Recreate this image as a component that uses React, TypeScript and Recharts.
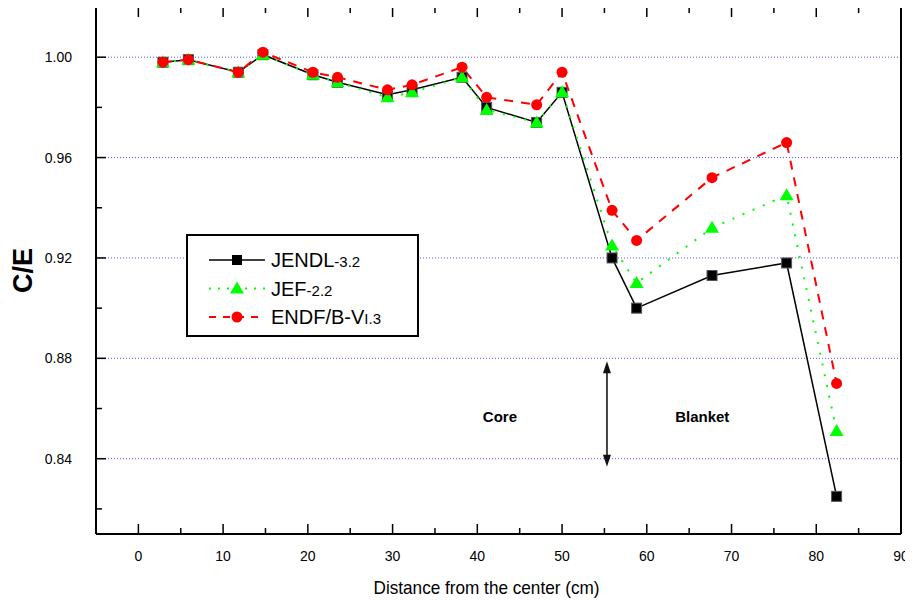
import React from 'react'
import { LineChart, Line, XAxis, YAxis, ReferenceLine, ReferenceDot, Label } from 'recharts'

// distance from the core center (cm)
const distance = [2.9, 5.9, 11.8, 14.7, 20.6, 23.5, 29.4, 32.3, 38.2, 41.1, 47.0, 50.0, 55.9, 58.8, 67.7, 76.5, 82.4]
const jendl = [0.998, 0.999, 0.994, 1.001, 0.993, 0.990, 0.985, 0.987, 0.992, 0.980, 0.974, 0.986, 0.920, 0.900, 0.913, 0.918, 0.825]
const jef = [0.998, 0.999, 0.994, 1.001, 0.993, 0.990, 0.984, 0.986, 0.992, 0.979, 0.974, 0.986, 0.925, 0.910, 0.932, 0.945, 0.851]
const endf = [0.998, 0.999, 0.994, 1.002, 0.994, 0.992, 0.987, 0.989, 0.996, 0.984, 0.981, 0.994, 0.939, 0.927, 0.952, 0.966, 0.870]

const xTicks = [0, 5, 10, 15, 20, 25, 30, 35, 40, 45, 50, 55, 60, 65, 70, 75, 80, 85, 90]
const yTicks = [0.82, 0.84, 0.86, 0.88, 0.90, 0.92, 0.94, 0.96, 0.98, 1.00, 1.02]
const yMajor = [0.84, 0.88, 0.92, 0.96, 1.00]

// annotation positions in data units
const boundaryX = 55.3
const arrowTop = 0.8788
const arrowBottom = 0.8368
const labelY = 0.8548
const coreX = 40.65
const blanketX = 63.35

const rows = distance.map((x, i) => ({ x, jendl: jendl[i], jef: jef[i], endf: endf[i] }))

const FONT = '"Liberation Sans", Arial, Helvetica, sans-serif'

const isMajorX = (v: number) => v % 10 === 0

const BottomTick = (props: any) => {
  const { x, y, payload } = props
  const major = isMajorX(payload.value)
  return (
    <g>
      <line x1={x} x2={x} y1={y} y2={y - (major ? 10 : 6)} stroke="#000" strokeWidth={1.5} />
      {major && (
        <text x={x} y={y + 27} textAnchor="middle" fontSize={14} fontFamily={FONT} fill="#000">
          {payload.value}
        </text>
      )}
    </g>
  )
}

const TopTick = (props: any) => {
  const { x, y, payload } = props
  const major = isMajorX(payload.value)
  return <line x1={x} x2={x} y1={y} y2={y + (major ? 10 : 6)} stroke="#000" strokeWidth={1.5} />
}

const LeftTick = (props: any) => {
  const { x, y, payload } = props
  const major = yMajor.includes(payload.value)
  return (
    <g>
      <line x1={x} x2={x + (major ? 10 : 6)} y1={y} y2={y} stroke="#000" strokeWidth={1.5} />
      {major && (
        <text x={x - 24} y={y + 5} textAnchor="end" fontSize={14} fontFamily={FONT} fill="#000">
          {payload.value.toFixed(2)}
        </text>
      )}
    </g>
  )
}

const RightTick = (props: any) => {
  const { x, y, payload } = props
  const major = yMajor.includes(payload.value)
  return <line x1={x} x2={x - (major ? 10 : 6)} y1={y} y2={y} stroke="#000" strokeWidth={1.5} />
}

const Square = (p: any) => (
  <rect key={`s${p.index}`} x={p.cx - 5} y={p.cy - 5} width={10} height={10} fill="#000" stroke="#555" strokeWidth={1} />
)
const Triangle = (p: any) => (
  <polygon
    key={`t${p.index}`}
    points={`${p.cx},${p.cy - 7} ${p.cx - 7},${p.cy + 5} ${p.cx + 7},${p.cy + 5}`}
    fill="#00ff00"
  />
)
const Circle = (p: any) => <circle key={`c${p.index}`} cx={p.cx} cy={p.cy} r={5.5} fill="#ff0000" />

const Arrow = (p: any) => {
  const { x1, y1, x2, y2 } = p
  const top = Math.min(y1, y2)
  const bot = Math.max(y1, y2)
  return (
    <g>
      <line x1={x1} x2={x2} y1={top + 8} y2={bot - 8} stroke="#444" strokeWidth={2} />
      <polygon points={`${x1},${top} ${x1 - 4},${top + 12} ${x1 + 4},${top + 12}`} fill="#111" />
      <polygon points={`${x1},${bot} ${x1 - 4},${bot - 12} ${x1 + 4},${bot - 12}`} fill="#111" />
    </g>
  )
}

const TextMark = (text: string) => (p: any) => (
  <text x={p.cx} y={p.cy} fontSize={15} fontWeight="bold" fontFamily={FONT} fill="#000">
    {text}
  </text>
)

const axisLine = { stroke: '#000', strokeWidth: 2 }

function LegendBox() {
  const items = [
    { name: 'JENDL', sub: '-3.2', color: '#000', dash: undefined, marker: 'square' },
    { name: 'JEF', sub: '-2.2', color: '#00ff00', dash: '2 7', marker: 'triangle' },
    { name: 'ENDF/B-V', sub: 'I.3', color: '#ff0000', dash: '7 7', marker: 'circle' }
  ]
  return (
    <svg style={{ position: 'absolute', left: 186, top: 234 }} width={233} height={103}>
      <rect x={1} y={1} width={231} height={101} fill="#fff" stroke="#000" strokeWidth={2} />
      {items.map((it, i) => {
        const cy = 26 + i * 28.5
        return (
          <g key={it.name}>
            <line x1={23} x2={79} y1={cy} y2={cy} stroke={it.color} strokeWidth={it.marker === 'square' ? 1.5 : 2} strokeDasharray={it.dash} />
            {it.marker === 'square' && <rect x={46} y={cy - 5} width={10} height={10} fill="#000" />}
            {it.marker === 'triangle' && <polygon points={`51,${cy - 7} 44,${cy + 5} 58,${cy + 5}`} fill="#00ff00" />}
            {it.marker === 'circle' && <circle cx={51} cy={cy} r={5.5} fill="#ff0000" />}
            <text x={85} y={cy + 7} fontSize={20} fontFamily={FONT} fill="#000">
              {it.name}
              <tspan fontSize={15}>{it.sub}</tspan>
            </text>
          </g>
        )
      })}
    </svg>
  )
}

export default function App() {
  return (
    <div style={{ position: 'relative', width: 913, height: 602, margin: '-8px 0 0 -8px', background: '#fff' }}>
      <LineChart width={913} height={602} data={rows} margin={{ top: 2, right: 7, bottom: 38, left: 36 }}>
        <XAxis
          xAxisId="b"
          type="number"
          dataKey="x"
          domain={[-5, 90]}
          ticks={xTicks}
          interval={0}
          tickSize={0}
          tickMargin={0}
          tickLine={false}
          tick={<BottomTick />}
          axisLine={axisLine}
          height={30}
        >
          <Label
            content={(p: any) => (
              <text
                x={p.viewBox.x + p.viewBox.width / 2 - 12}
                y={p.viewBox.y + 60}
                textAnchor="middle"
                fontSize={19}
                fontFamily={FONT}
                textLength={226}
                lengthAdjust="spacingAndGlyphs"
                fill="#000"
              >
                Distance from the center (cm)
              </text>
            )}
          />
        </XAxis>
        <XAxis
          xAxisId="t"
          orientation="top"
          type="number"
          dataKey="x"
          domain={[-5, 90]}
          ticks={xTicks}
          interval={0}
          tickSize={0}
          tickMargin={0}
          tickLine={false}
          tick={<TopTick />}
          axisLine={axisLine}
          height={5}
        />
        <YAxis
          yAxisId="l"
          type="number"
          domain={[0.81, 1.02]}
          ticks={yTicks}
          interval={0}
          tickSize={0}
          tickMargin={0}
          tickLine={false}
          tick={<LeftTick />}
          axisLine={axisLine}
          width={60}
        >
          <Label
            content={(p: any) => {
              const cy = p.viewBox.y + p.viewBox.height / 2
              return (
                <text
                  x={32}
                  y={cy}
                  transform={`rotate(-90, 32, ${cy})`}
                  textAnchor="middle"
                  fontSize={27}
                  fontWeight="bold"
                  fontFamily={FONT}
                  fill="#000"
                >
                  C/E
                </text>
              )
            }}
          />
        </YAxis>
        <YAxis
          yAxisId="r"
          orientation="right"
          type="number"
          domain={[0.81, 1.02]}
          ticks={yTicks}
          interval={0}
          tickSize={0}
          tickMargin={0}
          tickLine={false}
          tick={<RightTick />}
          axisLine={axisLine}
          width={5}
        />

        {yMajor.map(v => (
          <ReferenceLine key={v} xAxisId="b" yAxisId="l" y={v} stroke="#5555ff" strokeWidth={1} strokeDasharray="1 2" />
        ))}

        <ReferenceLine
          xAxisId="b"
          yAxisId="l"
          segment={[{ x: boundaryX, y: arrowTop }, { x: boundaryX, y: arrowBottom }]}
          shape={Arrow}
        />
        <ReferenceDot xAxisId="b" yAxisId="l" x={coreX} y={labelY} r={0} shape={TextMark('Core')} />
        <ReferenceDot xAxisId="b" yAxisId="l" x={blanketX} y={labelY} r={0} shape={TextMark('Blanket')} />

        <Line
          xAxisId="b"
          yAxisId="l"
          type="linear"
          dataKey="jendl"
          stroke="#000"
          strokeWidth={1.5}
          dot={Square}
          activeDot={false}
          isAnimationActive={false}
        />
        <Line
          xAxisId="b"
          yAxisId="l"
          type="linear"
          dataKey="jef"
          stroke="#00ff00"
          strokeWidth={2}
          strokeDasharray="2 9"
          dot={Triangle}
          activeDot={false}
          isAnimationActive={false}
        />
        <Line
          xAxisId="b"
          yAxisId="l"
          type="linear"
          dataKey="endf"
          stroke="#ff0000"
          strokeWidth={2}
          strokeDasharray="9 8"
          dot={Circle}
          activeDot={false}
          isAnimationActive={false}
        />
      </LineChart>
      <LegendBox />
    </div>
  )
}
